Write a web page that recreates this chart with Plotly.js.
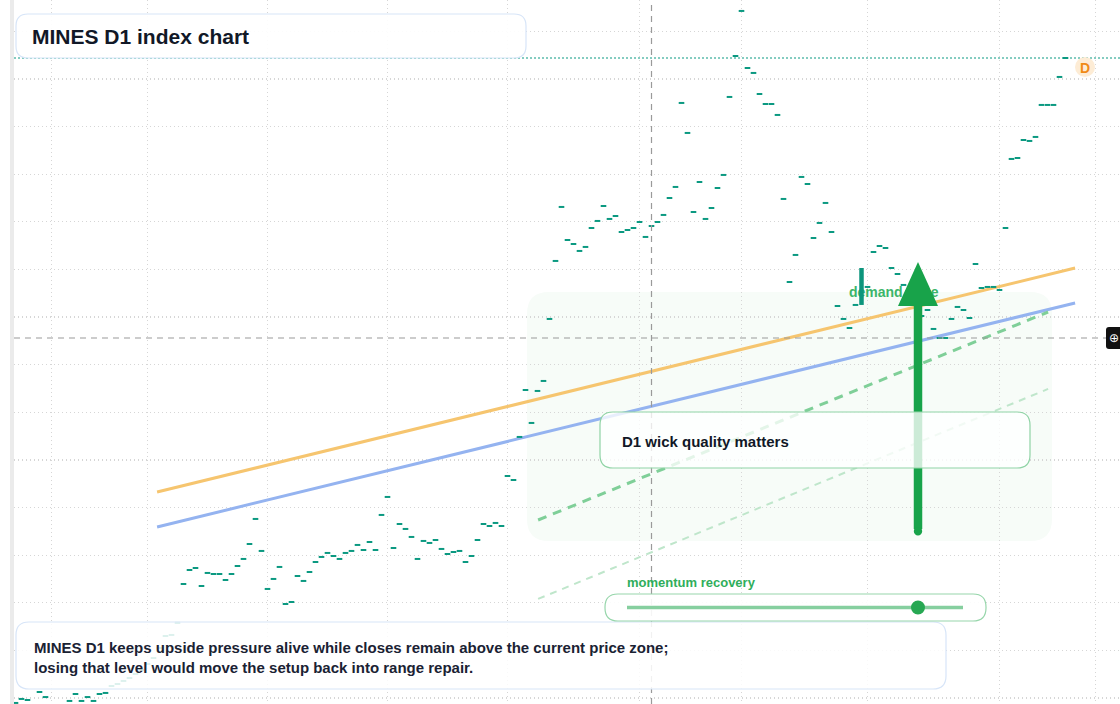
<!DOCTYPE html>
<html>
<head>
<meta charset="utf-8">
<script src="https://cdn.plot.ly/plotly-3.0.1.min.js"></script>
<style>
  html, body { margin: 0; padding: 0; background: #ffffff; }
  #chart { width: 1120px; height: 704px; }
</style>
</head>
<body>
<div id="chart"></div>
<script>
// ---------- DATA ----------
// daily closes of the MINES index, one per D1 bar (bar 141 is the highlighted wide bar)
const closes = [
  994.8, 999.0, 997.9, 991.6, 1006.3, 1001.0, 988.5, 985.3, 990.6, 996.9,
  1004.2, 996.9, 1001.0, 996.9, 1004.2, 1005.3, 1012.6, 1014.7, 1017.9, 1021.0,
  1025.2, 1029.4, 1035.7, 1042.0, 1052.5, 1065.1, 1066.2, 1078.8, 1119.7, 1134.4,
  1136.5, 1117.6, 1131.3, 1130.2, 1130.2, 1123.9, 1130.2, 1138.6, 1146.0, 1161.7,
  1188.0, 1154.4, 1114.5, 1125.0, 1137.6, 1098.7, 1100.8, 1128.1, 1122.9, 1132.3,
  1142.8, 1148.1, 1152.3, 1149.1, 1146.0, 1152.3, 1154.4, 1160.7, 1155.4, 1163.8,
  1155.4, 1192.2, 1211.1, 1157.5, 1182.7, 1177.5, 1169.1, 1146.0, 1164.9, 1162.8,
  1165.9, 1156.5, 1151.2, 1153.3, 1154.4, 1142.8, 1149.1, 1165.9, 1182.7, 1180.6,
  1183.8, 1180.6, 1233.1, 1228.9, 1274.1, 1323.4, 1288.8, 1322.4, 1332.9, 1398.0,
  1458.9, 1515.6, 1480.9, 1476.7, 1469.4, 1473.6, 1493.5, 1500.9, 1516.6, 1503.0,
  1506.1, 1489.3, 1491.4, 1493.5, 1499.8, 1484.1, 1495.6, 1499.8, 1507.2, 1525.0,
  1536.6, 1624.8, 1593.3, 1510.3, 1541.8, 1503.0, 1514.5, 1535.5, 1549.2, 1631.1,
  1674.1, 1721.4, 1661.5, 1656.3, 1634.2, 1623.7, 1623.7, 1612.2, 1524.0, 1436.8,
  1465.2, 1547.1, 1539.7, 1483.0, 1498.8, 1519.8, 1489.3, 1411.6, 1398.0, 1388.5,
  1412.7, null,   1431.6, 1468.3, 1474.6, 1472.5, 1451.5, 1445.2, 1433.7, 1420.0,
  1413.7, 1401.1, 1407.4, 1387.5, 1378.0, 1378.0, 1398.0, 1410.6, 1407.4, 1399.0,
  1455.7, 1430.5, 1431.6, 1431.6, 1428.4, 1493.5, 1566.0, 1567.0, 1585.9, 1584.9,
  1589.1, 1622.7, 1622.7, 1622.7, 1652.1, 1672.0
];
const barIndex = closes.map((_, i) => i);

// highlighted wide-range bar (demand zone marker)
const wideBarX = [141, 141];
const wideBarY = [1451.5, 1412.7];

// trend lines (bar index, price)
const trendX = [23.6, 176.6];
const resistanceY = [1216.3, 1451.5];   // orange
const supportY = [1179.6, 1414.8];      // blue
const channelX = [87.1, 172.1];
const channelUpperY = [1186.9, 1405.3]; // green dashed
const channelLowerY = [1104.0, 1324.5]; // light green dashed

const lastClose = 1672.0;
const crossX = 106;
const crossY = 1378.0;

// month boundaries on the bar axis (grid)
const monthTicks = [6, 22, 42, 62, 82, 104, 121, 142, 164, 180];

// texts
const titleText = "MINES D1 index chart";
const noteText = "MINES D1 keeps upside pressure alive while closes remain above the current price zone;<br>losing that level would move the setup back into range repair.";
const calloutText = "D1 wick quality matters";
const zoneText = "demand zone";
const sliderText = "momentum recovery";

// ---------- layout helpers (pixel -> axis units for decorations) ----------
const X = px => (px - 14) / 6 - 0.25;
const Y = py => 1000 + (698 - py) * 1.05;
function rr(x0, y0, x1, y1, r) {
  const P = (x, y) => X(x) + ',' + Y(y);
  return 'M' + P(x0 + r, y0) + ' L' + P(x1 - r, y0) + ' Q' + P(x1, y0) + ' ' + P(x1, y0 + r) +
    ' L' + P(x1, y1 - r) + ' Q' + P(x1, y1) + ' ' + P(x1 - r, y1) +
    ' L' + P(x0 + r, y1) + ' Q' + P(x0, y1) + ' ' + P(x0, y1 - r) +
    ' L' + P(x0, y0 + r) + ' Q' + P(x0, y0) + ' ' + P(x0 + r, y0) + ' Z';
}

const FONT = '"Liberation Sans", Arial, Helvetica, sans-serif';
const teal = '#0b9981';

const traces = [
  { x: trendX, y: resistanceY, mode: 'lines', line: { color: '#f6c56f', width: 3 }, hoverinfo: 'skip' },
  { x: trendX, y: supportY, mode: 'lines', line: { color: '#94b3f0', width: 3 }, hoverinfo: 'skip' },
  { x: channelX, y: channelUpperY, mode: 'lines', line: { color: '#7fcf98', width: 3, dash: '9px,7px' }, hoverinfo: 'skip' },
  { x: channelX, y: channelLowerY, mode: 'lines', line: { color: '#bfe6cb', width: 2, dash: '7px,6px' }, hoverinfo: 'skip' },
  {
    x: barIndex, y: closes, mode: 'markers', hoverinfo: 'skip',
    marker: { symbol: 'line-ew', size: 4, color: teal, line: { width: 2, color: teal } }
  },
  {
    x: [X(849)], y: [Y(293)], mode: 'text', text: [zoneText], textposition: 'middle right',
    textfont: { family: FONT, size: 14, color: '#3cb56a', weight: 'bold' }, hoverinfo: 'skip'
  },
  { x: wideBarX, y: wideBarY, mode: 'lines', line: { color: '#0c957c', width: 4.5 }, hoverinfo: 'skip' }
];

const shapes = [
  // left frame strip
  { type: 'rect', xref: 'paper', yref: 'paper', x0: -4 / 1106, x1: 0, y0: 0, y1: 1, fillcolor: '#ebebeb', line: { width: 0 }, layer: 'below' },
  // shaded zone
  { type: 'path', path: rr(527, 292, 1052, 541, 22), fillcolor: '#f7fcf8', line: { width: 0 }, layer: 'below' },
  // last price line
  { type: 'line', xref: 'paper', x0: 0, x1: 1, yref: 'y', y0: lastClose, y1: lastClose, line: { color: teal, width: 1.2, dash: '2px,2px' }, layer: 'below' },
  // crosshair
  { type: 'line', xref: 'x', yref: 'paper', x0: crossX, x1: crossX, y0: 0, y1: 1, line: { color: '#9a9a9a', width: 1.2, dash: '6px,5px' }, layer: 'above' },
  { type: 'line', xref: 'x', yref: 'y', x0: X(14), x1: X(1107), y0: crossY, y1: crossY, line: { color: '#9a9a9a', width: 1.2, dash: '6px,5px' }, layer: 'above' },
  // arrow
  { type: 'line', x0: X(918), x1: X(918), y0: Y(529), y1: Y(300), line: { color: '#18a34a', width: 8.5 }, layer: 'above' },
  { type: 'circle', x0: X(913.8), x1: X(922.2), y0: Y(527), y1: Y(535.4), fillcolor: '#18a34a', line: { width: 0 }, layer: 'above' },
  { type: 'path', path: 'M' + X(898) + ',' + Y(306) + ' L' + X(938) + ',' + Y(306) + ' L' + X(918) + ',' + Y(262) + ' Z', fillcolor: '#18a34a', line: { width: 0 }, layer: 'above' },
  // callout box
  { type: 'path', path: rr(600, 412, 1030, 468, 13), fillcolor: 'rgba(255,255,255,0.78)', line: { color: '#8fd3a5', width: 1.2 }, layer: 'above' },
  // title box
  { type: 'path', path: rr(16, 14, 526, 58, 12), fillcolor: 'rgba(255,255,255,0.92)', line: { color: '#d7e5f8', width: 1.2 }, layer: 'above' },
  // note box
  { type: 'path', path: rr(16, 622, 946, 689, 13), fillcolor: 'rgba(255,255,255,0.86)', line: { color: '#d7e5f8', width: 1.2 }, layer: 'above' },
  // slider pill
  { type: 'path', path: rr(605, 594, 986, 621, 13), fillcolor: 'rgba(255,255,255,0.9)', line: { color: '#97d6ab', width: 1.2 }, layer: 'above' },
  { type: 'line', x0: X(627), x1: X(963), y0: Y(607.5), y1: Y(607.5), line: { color: '#86cf9f', width: 3.5 }, layer: 'above' },
  { type: 'circle', x0: X(911), x1: X(925), y0: Y(600.5), y1: Y(614.5), fillcolor: '#27a853', line: { width: 0 }, layer: 'above' },
  // D badge
  { type: 'circle', x0: X(1075), x1: X(1095), y0: Y(57), y1: Y(77), fillcolor: '#fdecd5', line: { width: 0 }, layer: 'above' },
  // crosshair button
  { type: 'path', path: rr(1106, 327, 1135, 349, 3), fillcolor: '#111111', line: { width: 0 }, layer: 'above' }
];

const annotations = [
  { x: X(30), y: Y(36), xref: 'x', yref: 'y', text: '<b>' + titleText + '</b>', showarrow: false, xanchor: 'left', yanchor: 'middle',
    font: { family: FONT, size: 21, color: '#111827' } },
  { x: X(32), y: Y(657.5), xref: 'x', yref: 'y', text: '<b>' + noteText + '</b>', showarrow: false, xanchor: 'left', yanchor: 'middle', align: 'left',
    font: { family: FONT, size: 15, color: '#1a2233' } },
  { x: X(620), y: Y(441), xref: 'x', yref: 'y', text: '<b>' + calloutText + '</b>', showarrow: false, xanchor: 'left', yanchor: 'middle',
    font: { family: FONT, size: 15, color: '#111827' } },
  { x: X(625), y: Y(582), xref: 'x', yref: 'y', text: '<b>' + sliderText + '</b>', showarrow: false, xanchor: 'left', yanchor: 'middle',
    font: { family: FONT, size: 13, color: '#2fae5b' } },
  { x: X(1085), y: Y(67.5), xref: 'x', yref: 'y', text: '<b>D</b>', showarrow: false, xanchor: 'center', yanchor: 'middle',
    font: { family: FONT, size: 14, color: '#f08a17' } },
  { x: X(1113.5), y: Y(338), xref: 'x', yref: 'y', text: '⊕', showarrow: false, xanchor: 'center', yanchor: 'middle',
    font: { family: '"DejaVu Sans", sans-serif', size: 12, color: '#ffffff' } }
];

const layout = {
  width: 1120, height: 704,
  margin: { l: 14, r: 0, t: 0, b: 0 },
  paper_bgcolor: '#ffffff', plot_bgcolor: '#ffffff',
  showlegend: false,
  xaxis: {
    range: [-0.25, -0.25 + 1106 / 6], tickvals: monthTicks, showticklabels: false, ticks: '',
    showgrid: true, gridcolor: '#d6d6d6', griddash: '1px,3px', gridwidth: 1.2,
    zeroline: false, showline: false, fixedrange: true
  },
  yaxis: {
    range: [Y(704), Y(0)], tick0: 1000, dtick: 50, showticklabels: false, ticks: '',
    showgrid: true, gridcolor: '#d6d6d6', griddash: '1px,3px', gridwidth: 1.2,
    zeroline: false, showline: false, fixedrange: true
  },
  shapes: shapes,
  annotations: annotations,
  font: { family: FONT }
};

Plotly.newPlot('chart', traces, layout, { displayModeBar: false, staticPlot: true });
</script>
</body>
</html>
